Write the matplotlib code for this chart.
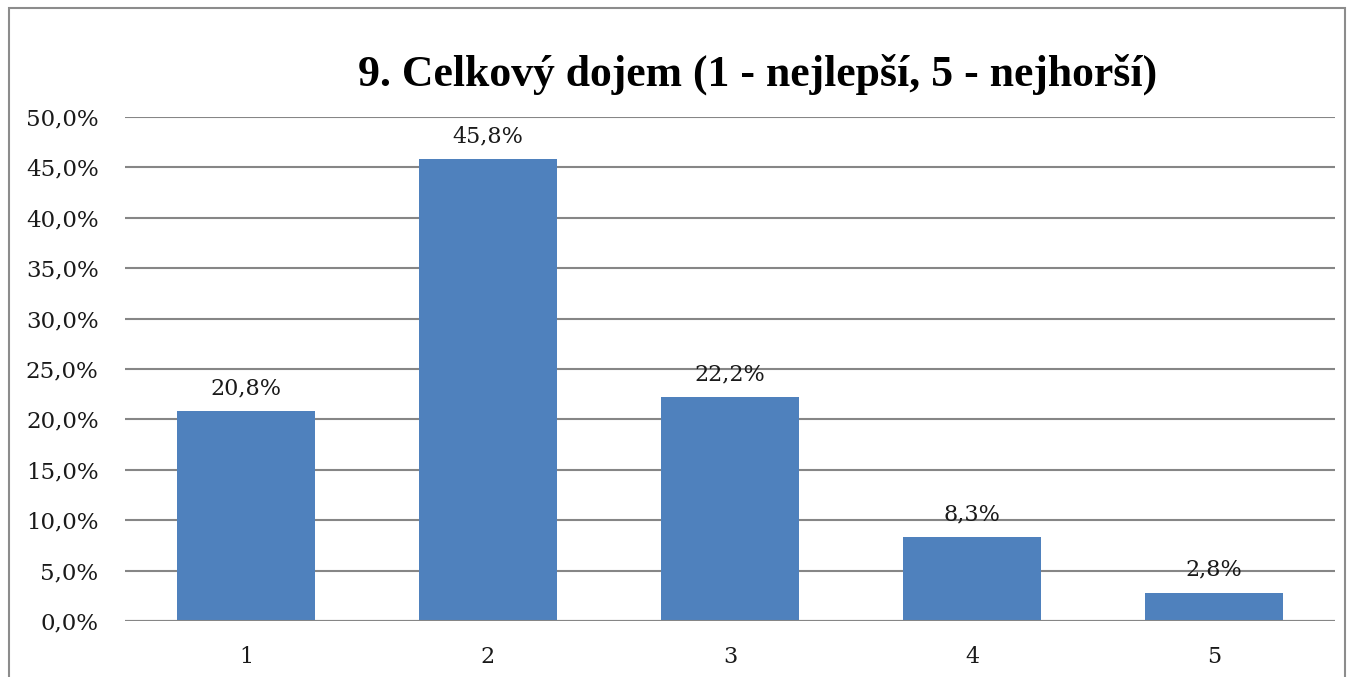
import matplotlib
matplotlib.use("Agg")
import matplotlib.pyplot as plt
from matplotlib.patches import Rectangle

categories = ["1", "2", "3", "4", "5"]
values = [20.8, 45.8, 22.2, 8.3, 2.8]
yticks = [0, 5, 10, 15, 20, 25, 30, 35, 40, 45, 50]
title = "9. Celkový dojem (1 - nejlepší, 5 - nejhorší)"

serif = ["DejaVu Serif"]

fig = plt.figure(figsize=(13.51, 6.77), dpi=100)
ax = fig.add_axes([125/1351, 56/677, 1210/1351, 504/677])

x = list(range(len(categories)))
ax.bar(x, values, width=0.57, color="#4F81BD", zorder=3)
for xi, v in zip(x, values):
    ax.text(xi, v + 1.2, f"{v:.1f}%".replace(".", ","), ha="center", va="bottom",
            fontsize=16, family=serif, color="#1a1a1a")

ax.set_xlim(-0.5, len(categories) - 0.5)
ax.set_ylim(0, 50)
ax.set_yticks(yticks)
ax.set_yticklabels([f"{t:.1f}%".replace(".", ",") for t in yticks], family=serif, fontsize=16.5)
ax.set_xticks(x)
ax.set_xticklabels(categories, family=serif, fontsize=16)
ax.tick_params(axis="both", length=0, colors="#1a1a1a")
ax.tick_params(axis="y", pad=19)
ax.tick_params(axis="x", pad=18)
ax.yaxis.grid(True, color="#868686", linewidth=1.5, zorder=0)
for s in ax.spines.values():
    s.set_visible(False)
ax.axhline(0, color="#868686", linewidth=1.5, zorder=4)

fig.text(758/1351, 1 - 74/677, title, ha="center", va="center",
         fontsize=31.5, fontweight="bold", family=["Liberation Serif", "DejaVu Serif"])

fig.patches.append(Rectangle((9/1351, -0.01), 1336/1351, 1 - 8/677 + 0.01,
                             transform=fig.transFigure, fill=False,
                             edgecolor="#8c8c8c", linewidth=1.5))

fig.savefig("out.png", dpi=100)
